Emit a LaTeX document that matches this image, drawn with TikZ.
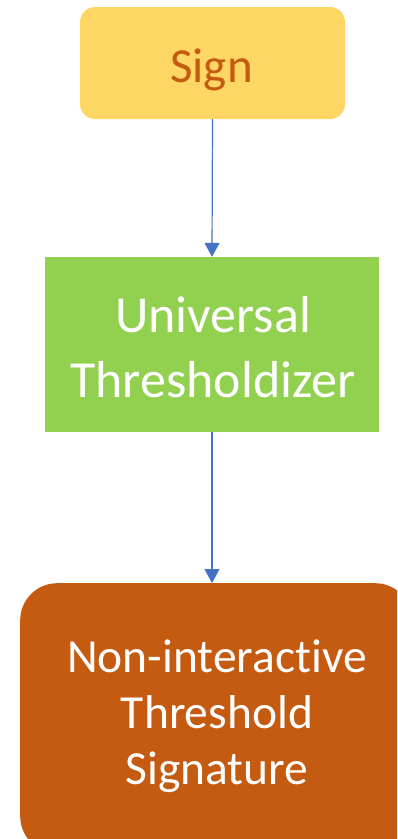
\documentclass[tikz,border=0pt]{standalone}
\usepackage{fontspec}
\setmainfont[Ligatures=NoCommon]{Carlito}
\usetikzlibrary{arrows.meta}
\definecolor{signyellow}{HTML}{FDD663}
\definecolor{signtext}{HTML}{C55A11}
\definecolor{utgreen}{HTML}{92D050}
\definecolor{ntsorange}{HTML}{C55A11}
\definecolor{arrowblue}{HTML}{4472C4}
\tikzset{
  box/.style={inner sep=0pt, align=center},
  flow/.style={draw=arrowblue, line width=1.2pt, -{Triangle[width=15pt,length=14pt]}},
}
\begin{document}
\begin{tikzpicture}[x=1pt,y=1pt]
\useasboundingbox (0,0) rectangle (397,-839);
\clip (0,0) rectangle (397,-839);
\node[box, fill=signyellow, rounded corners=15pt, minimum width=265pt, minimum height=112pt] (sign) at (212.5,-63) {};
\node[box, text=signtext, font=\fontsize{49}{58}\selectfont, anchor=base] (signtext) at (211.5,-82) {Sign};
\node[box, fill=utgreen, minimum width=334pt, minimum height=175pt] (ut) at (212,-344.5) {};
\node[box, text=white, font=\fontsize{52}{65}\selectfont, anchor=base] (uttext) at (213,-397) {Universal\\Thresholdizer};
\node[box, fill=ntsorange, rounded corners=37pt, minimum width=392pt, minimum height=270pt,
  anchor=north west] (nts) at (20,-583) {};
\node[box, text=white, font=\fontsize{47.5}{56}\selectfont, anchor=base] (ntstext) at (217,-784) {Non-interactive\\Threshold\\Signature};
\draw[flow] (sign.south) -- (ut.north);
\draw[flow] (ut.south) -- (nts.north -| ut.south);
\end{tikzpicture}
\end{document}
